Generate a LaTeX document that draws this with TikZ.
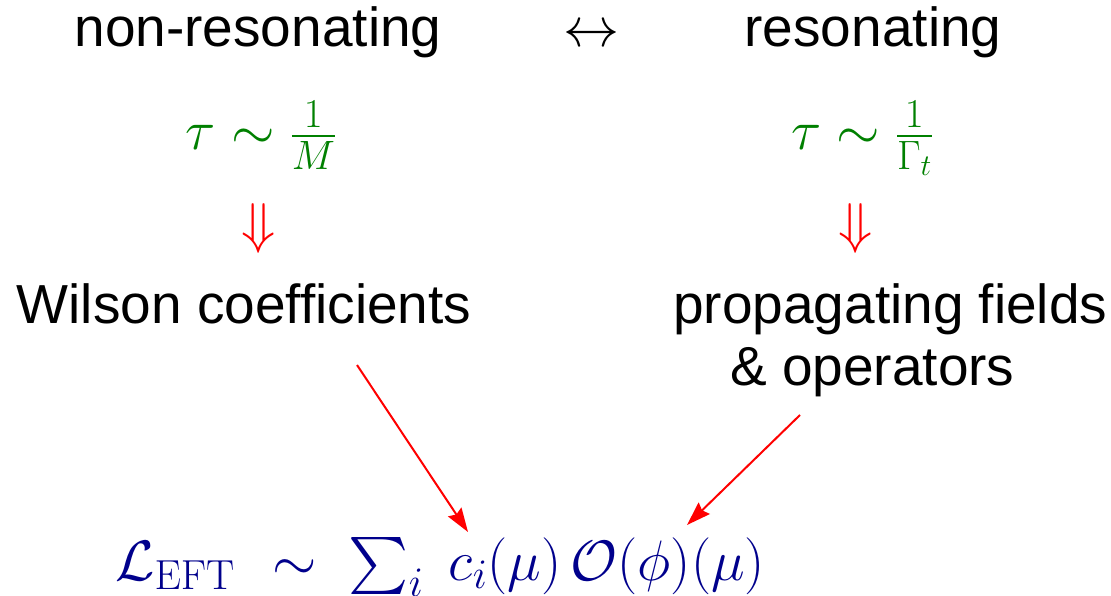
\RequirePackage{fix-cm}
\documentclass[tikz,border=0pt]{standalone}
\usepackage{amsmath}
\usepackage[no-math]{fontspec}
% let the large operators scale with the math size
\DeclareFontShape{OMX}{cmex}{m}{n}{<->cmex10}{}
\DeclareMathSizes{56}{56}{41}{30}
\DeclareMathSizes{57}{57}{42}{30}
\newfontfamily\labelfont{Liberation Sans}
\usetikzlibrary{arrows.meta}
\definecolor{scalegreen}{RGB}{0,128,0}
\definecolor{eftnavy}{RGB}{0,0,140}
\tikzset{
  word/.style={font=\labelfont\fontsize{55}{62}\selectfont, inner sep=0pt, anchor=base},
  formula/.style={font=\fontsize{56}{62}\selectfont, inner sep=0pt, anchor=base},
  implies/.style={formula, text=red},
  feed/.style={draw=red, line width=2pt, -{Stealth[length=24pt,width=16pt,inset=3pt]}},
}
\begin{document}
\begin{tikzpicture}[x=1pt,y=-1pt]
\useasboundingbox (0,0) rectangle (1111,596);

% the two regimes
\node[word] (nonres) at (258,47) {non-resonating};
\node[formula] (swap) at (591,47) {$\leftrightarrow$};
\node[word] (res) at (873,47) {resonating};

% characteristic time scales
\node[formula, text=scalegreen] (tauM) at (261,150) {$\tau\sim\frac{1}{M}$};
\node[formula, text=scalegreen] (tauG) at (862,150) {$\tau\sim\frac{1}{\Gamma_t}$};

% consequences
\node[implies] (impL) at (259,243) {$\Downarrow$};
\node[implies] (impR) at (856,243) {$\Downarrow$};

\node[word] (wilson) at (244,323) {Wilson coefficients};
\node[word, align=left, anchor=base west] (fields) at (673,385)
  {propagating fields\\\hspace*{57pt}\& operators};

% effective Lagrangian
\node[formula, text=eftnavy, anchor=base west, font=\fontsize{57}{62}\selectfont] (lagr) at (115,580)
  {$\mathcal{L}_{\mathrm{EFT}}\mkern7mu\sim\mkern5mu\sum_i\; c_i(\mu)\,\mathcal{O}(\phi)(\mu)$};

% where each ingredient enters
\coordinate (wtail) at (357,365);
\coordinate (ctip) at (468,532);
\coordinate (ftail) at (800,415);
\coordinate (otip) at (687,525);
\draw[feed] (wtail) -- (ctip);
\draw[feed] (ftail) -- (otip);
\end{tikzpicture}
\end{document}
